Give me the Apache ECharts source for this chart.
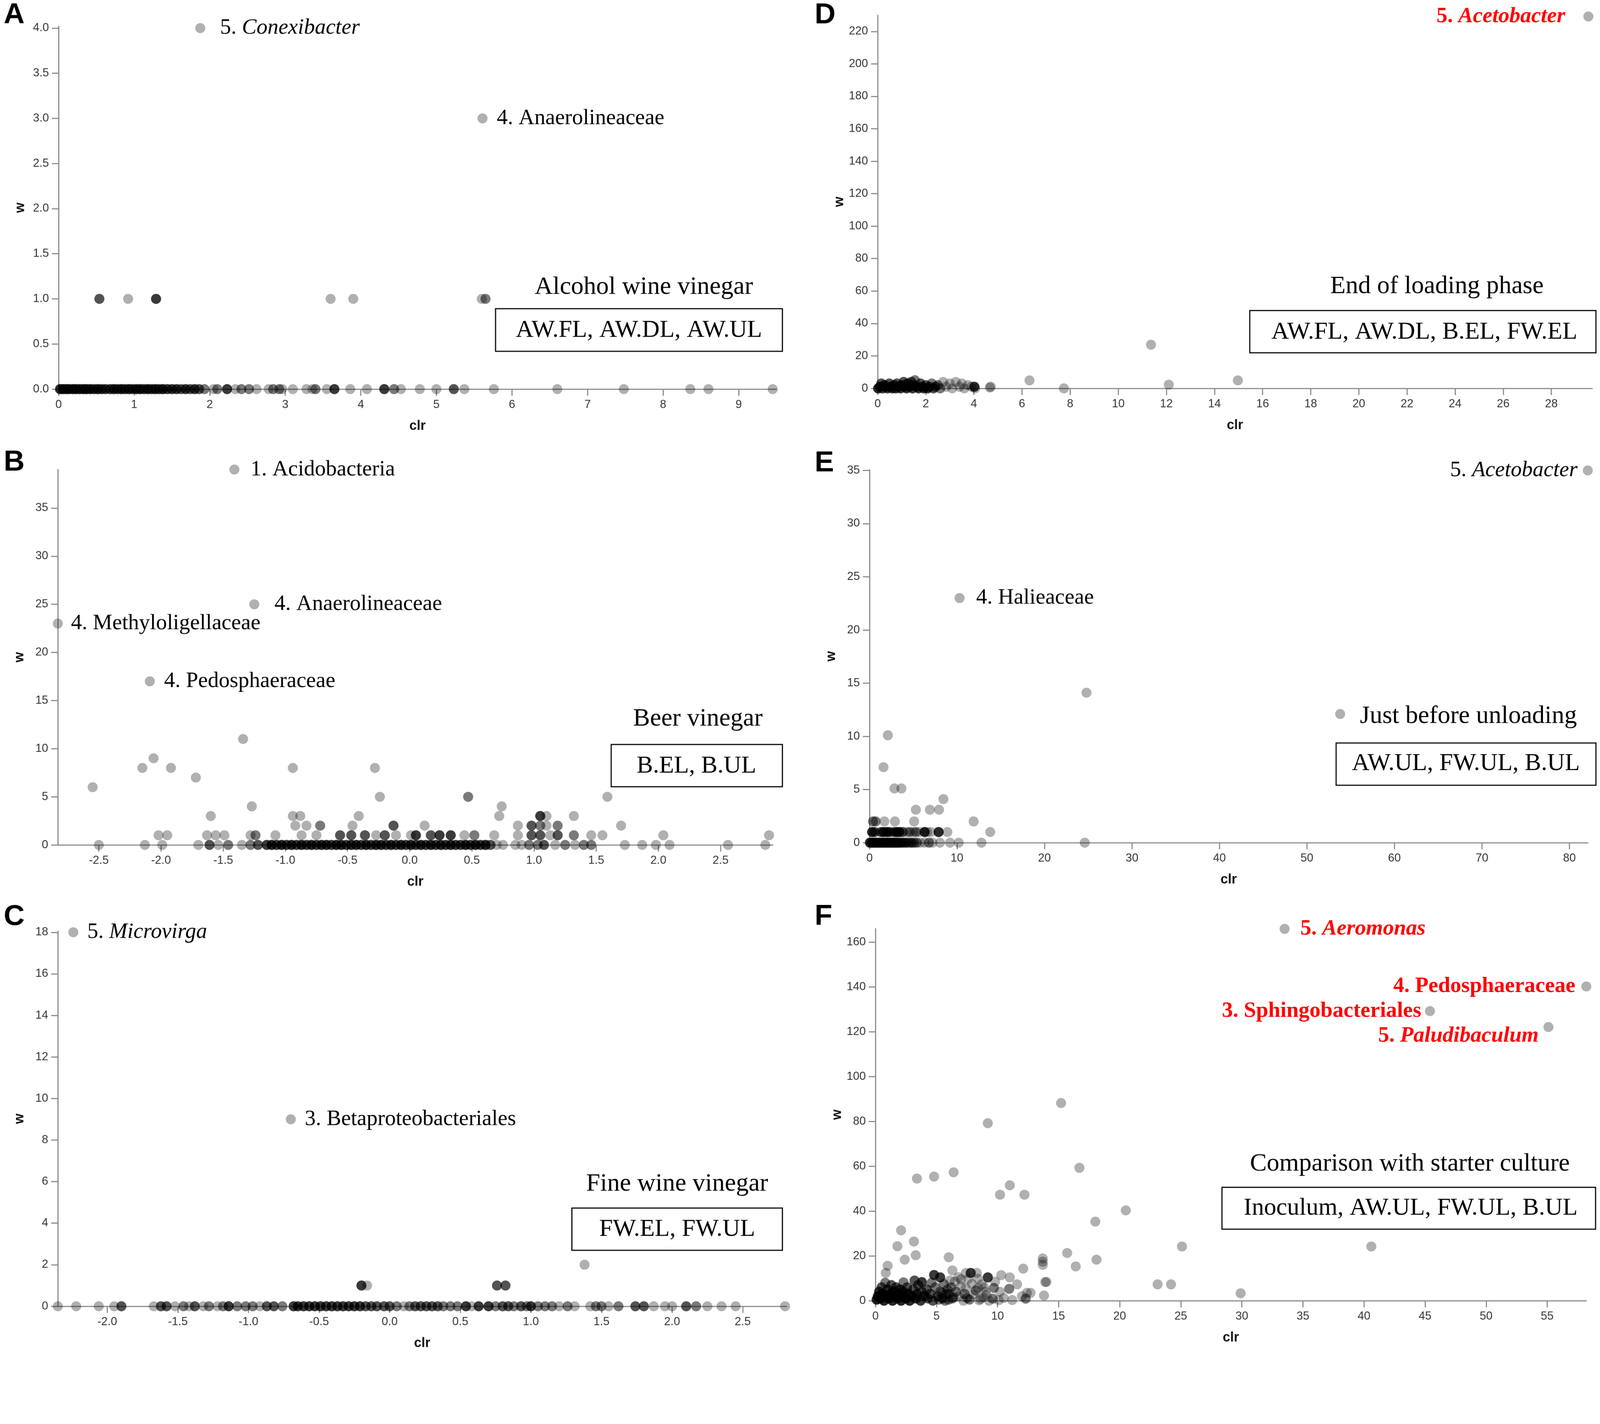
<!DOCTYPE html>
<html>
<head>
<meta charset="utf-8">
<script src="https://cdn.jsdelivr.net/npm/echarts@6/dist/echarts.min.js"></script>
<style>
  html, body { margin: 0; padding: 0; background: #fff; overflow: hidden; }
  #chart { width: 4317px; height: 3646px; transform-origin: 0 0; }
</style>
</head>
<body>
<div id="chart"></div>
<script>
// each row is [clr, w, n] where n = how many taxa sit on top of each other there

// ---- A: alcohol wine vinegar ----
const aTop = [[1.875, 4.0], [5.61, 3.0]];
const aTopNames = [['5. ', 'Conexibacter'], ['4. Anaerolineaceae', '']];
const aOne = [[0.54,1,3],[0.92,1,1],[1.29,1,4],[3.60,1,1],[3.90,1,1],[5.60,1,1],[5.65,1,2]];
const aZero = [
  [0.02,0,5],[0.06,0,5],[0.10,0,5],[0.14,0,5],[0.19,0,5],[0.23,0,5],[0.28,0,5],[0.33,0,5],[0.37,0,5],[0.42,0,5],
  [0.47,0,4],[0.52,0,5],[0.57,0,4],[0.62,0,4],[0.68,0,4],[0.73,0,5],[0.78,0,4],[0.83,0,5],[0.88,0,4],[0.93,0,5],
  [0.98,0,4],[1.03,0,5],[1.08,0,5],[1.13,0,4],[1.18,0,5],[1.23,0,4],[1.28,0,5],[1.33,0,4],[1.38,0,5],[1.44,0,4],
  [1.50,0,4],[1.56,0,4],[1.62,0,3],[1.68,0,4],[1.74,0,3],[1.80,0,4],[1.86,0,3],[1.93,0,2],
  [2.05,0,1],[2.10,0,2],[2.23,0,4],[2.34,0,1],[2.42,0,2],[2.52,0,2],[2.62,0,1],[2.78,0,1],[2.84,0,2],[2.92,0,2],
  [2.96,0,1],[3.10,0,1],[3.28,0,1],[3.36,0,1],[3.40,0,2],[3.55,0,1],[3.65,0,4],[3.86,0,1],[4.08,0,1],[4.31,0,4],
  [4.44,0,2],[4.53,0,1],[4.78,0,1],[5.00,0,1],[5.23,0,3],[5.37,0,1],[5.76,0,1],[6.60,0,1],[7.48,0,1],[8.36,0,1],
  [8.60,0,1],[9.45,0,1]
];
const aXTicks = [0, 1, 2, 3, 4, 5, 6, 7, 8, 9];
const aYTicks = [0, 0.5, 1, 1.5, 2, 2.5, 3, 3.5, 4];

// ---- B: beer vinegar ----
const bTop = [[-1.41, 39], [-1.25, 25], [-2.83, 23], [-2.09, 17]];
const bTopNames = [['1. Acidobacteria', ''], ['4. Anaerolineaceae', ''], ['4. Methyloligellaceae', ''], ['4. Pedosphaeraceae', '']];
const bUpper = [
  [-2.55,6,1],[-2.15,8,1],[-2.06,9,1],[-1.92,8,1],[-1.72,7,1],[-1.34,11,1],[-1.27,4,1],[-0.94,8,1],[-0.28,8,1],
  [-0.24,5,1],[0.47,5,2],[0.74,4,1],[1.59,5,1],
  [-1.60,3,1],[-0.94,3,1],[-0.88,3,1],[-0.41,3,1],[0.72,3,1],[1.05,3,4],[1.10,3,1],[1.32,3,1],
  [-0.92,2,1],[-0.83,2,1],[-0.72,2,2],[-0.46,2,1],[-0.13,2,3],[0.12,2,1],[0.87,2,1],[0.98,2,3],[1.05,2,2],
  [1.10,2,1],[1.19,2,2],[1.70,2,1]
];
const bOne = [
  [-2.02,1,1],[-1.95,1,1],[-1.63,1,1],[-1.56,1,1],[-1.49,1,1],[-1.28,1,1],[-1.24,1,2],[-1.08,1,1],[-0.87,1,1],
  [-0.75,1,1],[-0.56,1,3],[-0.47,1,3],[-0.36,1,3],[-0.27,1,1],[-0.20,1,3],[-0.11,1,1],[0.01,1,1],[0.05,1,4],
  [0.17,1,3],[0.24,1,4],[0.33,1,4],[0.44,1,1],[0.52,1,2],[0.68,1,1],[0.87,1,1],[0.98,1,3],[1.05,1,3],[1.13,1,1],
  [1.19,1,3],[1.32,1,2],[1.46,1,1],[1.55,1,1],[2.04,1,1],[2.89,1,1]
];
const bZero = [
  [-2.50,0,1],[-2.13,0,1],[-1.99,0,1],[-1.70,0,1],[-1.61,0,3],[-1.54,0,1],[-1.46,0,2],[-1.35,0,1],[-1.28,0,2],
  [-1.22,0,3],[-1.15,0,4],[-1.11,0,5],[-1.07,0,4],[-1.03,0,5],[-0.99,0,4],[-0.95,0,5],[-0.91,0,4],[-0.87,0,5],
  [-0.83,0,4],[-0.79,0,5],[-0.75,0,4],[-0.71,0,5],[-0.67,0,5],[-0.63,0,4],[-0.59,0,5],[-0.55,0,5],[-0.51,0,4],
  [-0.47,0,5],[-0.43,0,5],[-0.39,0,4],[-0.35,0,5],[-0.31,0,4],[-0.27,0,5],[-0.23,0,5],[-0.19,0,4],[-0.15,0,5],
  [-0.11,0,4],[-0.07,0,5],[-0.03,0,4],[0.01,0,5],[0.05,0,4],[0.09,0,5],[0.13,0,4],[0.17,0,5],[0.21,0,4],
  [0.25,0,5],[0.29,0,4],[0.33,0,5],[0.37,0,4],[0.41,0,4],[0.45,0,5],[0.49,0,4],[0.53,0,5],[0.57,0,4],[0.61,0,5],
  [0.65,0,3],[0.70,0,1],[0.75,0,1],[0.85,0,1],[0.90,0,1],[0.96,0,2],[1.03,0,2],[1.08,0,3],[1.17,0,1],[1.25,0,2],
  [1.33,0,1],[1.40,0,2],[1.46,0,2],[1.73,0,1],[1.87,0,1],[1.98,0,1],[2.09,0,1],[2.56,0,1],[2.86,0,1]
];
const bXTicks = [-2.5, -2, -1.5, -1, -0.5, 0, 0.5, 1, 1.5, 2, 2.5];
const bYTicks = [0, 5, 10, 15, 20, 25, 30, 35];

// ---- C: fine wine vinegar ----
const cTop = [[-2.24, 18], [-0.70, 9]];
const cTopNames = [['5. ', 'Microvirga'], ['3. Betaproteobacteriales', '']];
const cUpper = [[1.38,2,1],[-0.20,1,4],[-0.16,1,1],[0.76,1,3],[0.82,1,3]];
const cZero = [
  [-2.35,0,1],[-2.22,0,1],[-2.06,0,1],[-1.95,0,1],[-1.90,0,3],[-1.67,0,1],[-1.62,0,3],[-1.58,0,3],[-1.52,0,1],
  [-1.46,0,2],[-1.42,0,1],[-1.38,0,3],[-1.32,0,1],[-1.28,0,2],[-1.22,0,1],[-1.18,0,2],[-1.14,0,4],[-1.08,0,2],
  [-1.02,0,2],[-0.97,0,2],[-0.92,0,1],[-0.87,0,3],[-0.82,0,3],[-0.76,0,2],[-0.68,0,4],[-0.65,0,4],[-0.61,0,4],
  [-0.57,0,4],[-0.53,0,4],[-0.49,0,4],[-0.45,0,4],[-0.41,0,4],[-0.37,0,4],[-0.33,0,4],[-0.29,0,4],[-0.25,0,4],
  [-0.21,0,4],[-0.17,0,3],[-0.13,0,3],[-0.09,0,3],[-0.04,0,3],[0.00,0,3],[0.05,0,2],[0.10,0,1],[0.14,0,2],
  [0.18,0,3],[0.22,0,3],[0.26,0,3],[0.30,0,3],[0.34,0,3],[0.38,0,2],[0.43,0,2],[0.48,0,2],[0.54,0,4],[0.58,0,1],
  [0.63,0,4],[0.70,0,4],[0.75,0,2],[0.80,0,3],[0.84,0,3],[0.88,0,2],[0.93,0,3],[0.97,0,2],[1.00,0,4],[1.05,0,2],
  [1.10,0,2],[1.15,0,2],[1.20,0,1],[1.26,0,2],[1.31,0,1],[1.42,0,1],[1.46,0,2],[1.50,0,2],[1.55,0,1],[1.62,0,2],
  [1.74,0,3],[1.80,0,3],[1.87,0,1],[1.95,0,1],[2.00,0,1],[2.10,0,3],[2.17,0,2],[2.25,0,1],[2.35,0,1],[2.45,0,1],
  [2.80,0,1]
];
const cXTicks = [-2, -1.5, -1, -0.5, 0, 0.5, 1, 1.5, 2, 2.5];
const cYTicks = [0, 2, 4, 6, 8, 10, 12, 14, 16, 18];

// ---- D: end of loading phase ----
const dTop = [[29.54, 229.2]];
const dTopNames = [['5. ', 'Acetobacter']];
const dOther = [[4.66,0.5,1],[4.70,1,1],[6.31,4.9,1],[7.74,0,1],[11.36,26.9,1],[12.1,2.3,1],[14.97,4.9,1]];
const dCluster = [
  [0.02,0,5],[0.10,1,4],[0.15,3,3],[0.20,0,4],[0.28,2,4],[0.35,1,4],[0.40,0,4],[0.48,3,3],[0.55,1,4],[0.60,0,4],
  [0.68,2,4],[0.75,0,4],[0.80,3,3],[0.88,1,4],[0.95,0,4],[1.00,2,4],[1.08,4,3],[1.12,1,4],[1.20,0,4],[1.25,3,4],
  [1.32,1,4],[1.40,4,3],[1.45,0,4],[1.50,2,4],[1.55,5,2],[1.62,1,4],[1.70,0,4],[1.78,3,3],[1.85,1,4],[1.92,0,4],
  [2.00,2,3],[2.08,0,4],[2.15,1,3],[2.25,3,2],[2.32,0,3],[2.40,1,3],[2.50,2,2],[2.60,0,2],[2.72,4,1],[2.85,1,1],
  [3.00,3,1],[3.10,0,1],[3.25,4,1],[3.40,1,1],[3.50,3,1],[3.60,0,1],[3.75,2,1],[3.90,1,1],[4.02,1,4],[4.05,0,1]
];
const dXTicks = [0, 2, 4, 6, 8, 10, 12, 14, 16, 18, 20, 22, 24, 26, 28];
const dYTicks = [0, 20, 40, 60, 80, 100, 120, 140, 160, 180, 200, 220];

// ---- E: just before unloading ----
const eTop = [[82.1, 35.0], [10.3, 23.0]];
const eTopNames = [['5. ', 'Acetobacter'], ['4. Halieaceae', '']];
const eUpper = [
  [24.8,14.1,1],[53.8,12.1,1],[2.1,10.1,1],[1.6,7.1,1],[2.85,5.1,1],[3.65,5.1,1],[8.45,4.1,1],[5.3,3.1,1],
  [6.9,3.1,1],[7.95,3.1,1],[0.4,2,2],[0.7,2,2],[1.7,2,1],[2.9,2,1],[5.1,2,1],[11.9,2,1],[13.8,1,1],[8.9,1,1]
];
const eOne = [
  [0.3,1,5],[0.6,1,3],[1.3,1,3],[1.6,1,5],[2.0,1,5],[2.3,1,3],[2.8,1,3],[3.1,1,5],[3.4,1,5],[3.8,1,3],
  [4.3,1,1],[4.6,1,2],[5.0,1,1],[5.3,1,2],[5.7,1,1],[6.3,1,5],[6.6,1,1],[7.0,1,1],[7.9,1,5]
];
const eZero = [
  [0.05,0,5],[0.3,0,4],[0.55,0,5],[0.8,0,4],[1.05,0,5],[1.3,0,4],[1.55,0,5],[1.8,0,4],[2.05,0,5],[2.3,0,4],
  [2.55,0,4],[2.8,0,5],[3.05,0,4],[3.3,0,4],[3.6,0,4],[3.9,0,3],[4.2,0,3],[4.5,0,2],[4.8,0,3],[5.1,0,2],
  [5.4,0,2],[5.8,0,1],[6.3,0,1],[6.8,0,2],[7.2,0,1],[8.05,0,1],[9.2,0,1],[10.2,0,1],[12.8,0,1],[24.6,0,1]
];
const eXTicks = [0, 10, 20, 30, 40, 50, 60, 70, 80];
const eYTicks = [0, 5, 10, 15, 20, 25, 30, 35];

// ---- F: comparison with starter culture ----
const fTop = [[33.5, 165.9], [58.2, 140.2], [45.4, 129.2], [55.1, 122.1]];
const fTopNames = [['5. ', 'Aeromonas'], ['4. Pedosphaeraceae', ''], ['3. Sphingobacteriales', ''], ['5. ', 'Paludibaculum']];
const fScatter = [
  [15.2,88.2,1],[9.2,79.2,1],[16.7,59.3,1],[3.4,54.5,1],[4.8,55.4,1],[6.4,57.3,1],[10.2,47.3,1],[11.0,51.5,1],
  [12.2,47.3,1],[20.5,40.3,1],[18.0,35.3,1],[25.1,24.2,1],[40.6,24.2,1],[2.1,31.4,1],[3.15,26.4,1],[1.8,24.3,1],
  [3.3,20.3,1],[2.4,18.3,1],[6.0,19.4,1],[15.7,21.3,1],[18.1,18.3,1],[16.4,15.3,1],[13.7,18.9,1],[13.7,17.4,1],
  [13.7,16.0,1],[12.1,14.3,1],[1.0,15.6,1],[0.85,12.4,1],[6.3,13.5,1],[13.9,8.3,1],[14.0,8.4,1],[23.1,7.3,1],
  [24.2,7.3,1],[29.9,3.3,1],[10.3,11.4,1],[11.0,10.4,1],[11.6,7.3,1],[12.4,3.5,1],[12.7,3.5,1],[13.8,2.3,1],
  [10.5,1.2,1],[12.3,0.9,2],[10.95,5.3,2],[9.7,5.7,2],[9.2,10.4,4],[7.8,12.4,4],[8.3,12.4,1],[7.4,12.4,1],
  [4.8,11.5,4],[5.3,10.4,4],[3.8,8.3,4],[3.2,9.0,3],[2.3,8.2,2],[9.6,0.9,2],[7.5,1.2,2]
];
const fGrey = [
  [6.5,8.5,1],[7.0,9.5,1],[6.8,10.5,1],[7.6,9.8,1],[8.4,9.8,1],[8.7,7.3,1],[7.4,5.7,1],[8.4,5.7,1],[9.0,4.0,1],
  [9.8,8.5,1],[10.2,4.0,1],[6.2,6.0,2],[5.8,3.0,2],[6.8,2.0,1],[8.0,2.8,1],[8.8,1.5,1],[10.1,0.3,1],[6.0,0.5,2],
  [7.2,0.0,1],[8.5,0.2,1],[9.3,0.0,1],[11.2,0.3,1],[12.0,2.0,1],
  [5.2,0.5,2],[5.5,3.5,2],[5.9,5.0,2],[6.4,1.5,2],[6.6,4.0,2],[7.0,6.5,1],[7.3,3.0,2],[7.7,0.5,2],[7.9,7.5,1],
  [8.2,4.5,2],[8.6,0.8,1],[8.9,6.0,1],[9.1,2.5,1],[6.1,9.0,1],[5.6,7.5,2],[4.6,8.0,2]
];
const fCluster = [
  [0.1,0.5,5],[0.2,2,5],[0.3,4,4],[0.4,1,5],[0.5,6,3],[0.6,3,5],[0.7,0,5],[0.8,8,2],[0.9,2,5],[1.0,5,4],
  [1.1,1,5],[1.2,3,5],[1.3,7,3],[1.4,0,5],[1.5,4,5],[1.6,2,5],[1.7,6,3],[1.8,1,5],[1.9,3,5],[2.0,5,4],
  [2.1,0,5],[2.2,2,5],[2.3,4,4],[2.5,1,5],[2.6,6,3],[2.7,3,4],[2.8,0,5],[3.0,2,4],[3.1,5,3],[3.3,1,4],
  [3.4,3,4],[3.5,7,3],[3.7,0,4],[3.8,4,3],[4.0,2,4],[4.2,5,3],[4.3,1,3],[4.5,3,3],[4.7,0,3],[4.9,6,2],
  [5.1,2,3],[5.3,4,2],[5.5,1,3],[5.7,0,2],[6.0,3,2],[6.3,1,2]
];
const fXTicks = [0, 5, 10, 15, 20, 25, 30, 35, 40, 45, 50, 55];
const fYTicks = [0, 20, 40, 60, 80, 100, 120, 140, 160];

// ------------------------------------------------------------------

const SERIF = 'Liberation Serif, Times New Roman, serif';
const SANS = 'Liberation Sans, Arial, sans-serif';
const DOT = 'rgba(0,0,0,0.31)';
const AXIS = '#8a8a8a';

function expand(rows) {
  const out = [];
  rows.forEach(r => {
    const n = r[2] || 1;
    for (let i = 0; i < n; i++) out.push([r[0], r[1]]);
  });
  return out;
}

const fmt1 = v => v.toFixed(1);
const fmt0 = v => String(v);

// panel frames: [left, top, width, height] and axis ranges
const panels = [
  { box: [158, 71, 1937, 979],  x: [0, 9.5],      y: [0, 4.02],  xt: aXTicks, yt: aYTicks, xf: fmt0, yf: fmt1 },
  { box: [156, 1267, 1929, 1013], x: [-2.83, 2.92], y: [0, 39],  xt: bXTicks, yt: bYTicks, xf: fmt1, yf: fmt0 },
  { box: [156, 2513, 1966, 1012], x: [-2.35, 2.81], y: [0, 18.05], xt: cXTicks, yt: cYTicks, xf: fmt1, yf: fmt0 },
  { box: [2368, 41, 1928, 1007], x: [0, 29.7],     y: [0, 230],   xt: dXTicks, yt: dYTicks, xf: fmt0, yf: fmt0 },
  { box: [2346, 1268, 1938, 1006], x: [0, 82.1],   y: [0, 35.05], xt: eXTicks, yt: eYTicks, xf: fmt0, yf: fmt0 },
  { box: [2362, 2506, 1918, 1004], x: [0, 58.2],   y: [0, 166],   xt: fXTicks, yt: fYTicks, xf: fmt0, yf: fmt0 }
];

const grids = panels.map(p => ({ left: p.box[0], top: p.box[1], width: p.box[2], height: p.box[3] }));

const xAxes = panels.map((p, i) => ({
  gridIndex: i, type: 'value', min: p.x[0], max: p.x[1],
  name: 'clr', nameLocation: 'middle', nameGap: 82,
  nameTextStyle: { fontFamily: SANS, fontWeight: 'bold', fontSize: 36, color: '#111' },
  axisLine: { show: true, onZero: false, lineStyle: { color: AXIS, width: 3 } },
  axisTick: { show: true, length: 18, lineStyle: { color: AXIS, width: 3 }, customValues: p.xt },
  axisLabel: { customValues: p.xt, formatter: p.xf, fontFamily: SANS, fontSize: 31, color: '#333', margin: 27 },
  splitLine: { show: false }
}));

const yAxes = panels.map((p, i) => ({
  gridIndex: i, type: 'value', min: p.y[0], max: p.y[1],
  name: 'w', nameLocation: 'middle', nameGap: 85,
  nameTextStyle: { fontFamily: SANS, fontWeight: 'bold', fontSize: 36, color: '#111' },
  axisLine: { show: true, onZero: false, lineStyle: { color: AXIS, width: 3 } },
  axisTick: { show: true, length: 18, lineStyle: { color: AXIS, width: 3 }, customValues: p.yt },
  axisLabel: { customValues: p.yt, formatter: p.yf, fontFamily: SANS, fontSize: 31, color: '#333', margin: 26 },
  splitLine: { show: false }
}));

function dots(i, rows) {
  return {
    type: 'scatter', xAxisIndex: i, yAxisIndex: i, data: expand(rows),
    symbolSize: 27, itemStyle: { color: DOT, opacity: 1 }, clip: false, silent: true,
    large: false, progressive: 0
  };
}

// label placement for the named taxa, same order as the *Top arrays
const labelLook = [
  [{ pos: 'right', d: 40 }, { pos: 'right', d: 25 }],
  [{ pos: 'right', d: 30 }, { pos: 'right', d: 41 }, { pos: 'right', d: 22 }, { pos: 'right', d: 25 }],
  [{ pos: 'right', d: 24 }, { pos: 'right', d: 24 }],
  [{ pos: 'left', d: 49, red: true }],
  [{ pos: 'left', d: 14 }, { pos: 'right', d: 31 }],
  [{ pos: 'right', d: 29, red: true }, { pos: 'left', d: 16, red: true },
   { pos: 'left', d: 10, red: true }, { pos: 'left', d: 13, red: true, dy: 24 }]
];

function named(i, pts, names) {
  const data = pts.map((pt, k) => {
    const look = labelLook[i][k];
    const nm = names[k];
    const color = look.red ? '#ff0000' : '#000';
    const weight = look.red ? 'bold' : 'normal';
    const text = '{n|' + nm[0] + '}' + (nm[1] ? '{i|' + nm[1] + '}' : '');
    return {
      value: pt,
      label: {
        show: true, position: look.pos, distance: look.d,
        offset: [0, look.dy || 0],
        formatter: text,
        rich: {
          n: { fontFamily: SERIF, fontSize: 59, color: color, fontWeight: weight, fontStyle: 'normal' },
          i: { fontFamily: SERIF, fontSize: 59, color: color, fontWeight: weight, fontStyle: 'italic' }
        }
      }
    };
  });
  return {
    type: 'scatter', xAxisIndex: i, yAxisIndex: i, data: data,
    symbolSize: 27, itemStyle: { color: DOT, opacity: 1 }, clip: false, silent: true
  };
}

const series = [
  dots(0, aZero), dots(0, aOne), named(0, aTop, aTopNames),
  dots(1, bZero), dots(1, bOne), dots(1, bUpper), named(1, bTop, bTopNames),
  dots(2, cZero), dots(2, cUpper), named(2, cTop, cTopNames),
  dots(3, dCluster), dots(3, dOther), named(3, dTop, dTopNames),
  dots(4, eZero), dots(4, eOne), dots(4, eUpper), named(4, eTop, eTopNames),
  dots(5, fCluster), dots(5, fGrey), dots(5, fScatter), named(5, fTop, fTopNames)
];

// captions, sample boxes and panel letters
function caption(text, x, y) {
  return { type: 'text', z: 100, style: { text: text, x: x, y: y, fontFamily: SERIF, fontSize: 68,
    fill: '#000', align: 'center', verticalAlign: 'middle' } };
}
function sampleBox(text, x, y, w, h, tx, ty) {
  return [
    { type: 'rect', z: 100, shape: { x: x, y: y, width: w, height: h },
      style: { fill: 'none', stroke: '#000', lineWidth: 3 } },
    { type: 'text', z: 100, style: { text: text, x: tx, y: ty, fontFamily: SERIF, fontSize: 66,
      fill: '#000', align: 'center', verticalAlign: 'middle' } }
  ];
}
function letter(text, x, y) {
  return { type: 'text', z: 100, style: { text: text, x: x, y: y, fontFamily: SANS, fontWeight: 'bold',
    fontSize: 78, fill: '#000', align: 'left', verticalAlign: 'middle' } };
}

const graphics = [
  letter('A', 10, 41), letter('B', 10, 1248), letter('C', 10, 2474),
  letter('D', 2198, 41), letter('E', 2198, 1250), letter('F', 2198, 2474),
  caption('Alcohol wine vinegar', 1737, 775),
  ...sampleBox('AW.FL, AW.DL, AW.UL', 1337, 833, 774, 115, 1724, 892),
  caption('Beer vinegar', 1883, 1940),
  ...sampleBox('B.EL, B.UL', 1649, 2009, 462, 114, 1879, 2068),
  caption('Fine wine vinegar', 1827, 3195),
  ...sampleBox('FW.EL, FW.UL', 1543, 3260, 568, 114, 1827, 3318),
  caption('End of loading phase', 3877, 773),
  ...sampleBox('AW.FL, AW.DL, B.EL, FW.EL', 3372, 838, 934, 114, 3843, 897),
  caption('Just before unloading', 3962, 1933),
  ...sampleBox('AW.UL, FW.UL, B.UL', 3605, 2005, 701, 114, 3955, 2061),
  caption('Comparison with starter culture', 3804, 3141),
  ...sampleBox('Inoculum, AW.UL, FW.UL, B.UL', 3297, 3204, 1008, 113, 3806, 3261)
];

// the page is laid out at 4317 x 3646 and fitted to whatever the window is
const el = document.getElementById('chart');
const fit = Math.min(window.innerWidth / 4317, window.innerHeight / 3646);
if (fit > 0 && Math.abs(fit - 1) > 0.001) el.style.transform = 'scale(' + fit + ')';

const chart = echarts.init(el, null, { renderer: 'canvas' });
chart.setOption({
  animation: false,
  backgroundColor: '#fff',
  grid: grids,
  xAxis: xAxes,
  yAxis: yAxes,
  series: series,
  graphic: graphics
});
</script>
</body>
</html>
